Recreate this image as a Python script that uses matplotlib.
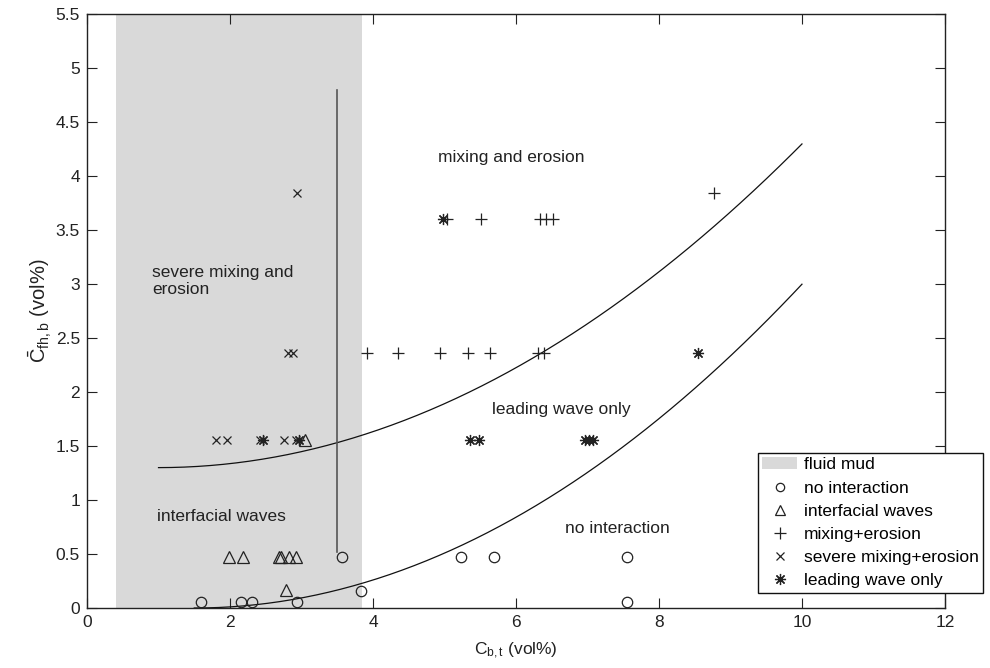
import numpy as np
import matplotlib
matplotlib.use("Agg")
import matplotlib.pyplot as plt
from matplotlib.patches import Patch
from matplotlib.lines import Line2D

plt.rcParams['font.family'] = ['Liberation Sans', 'DejaVu Sans']
plt.rcParams['mathtext.fontset'] = 'custom'
plt.rcParams['mathtext.rm'] = 'Liberation Sans'
plt.rcParams['mathtext.it'] = 'Liberation Sans'

# Observed regimes: bed concentration C_b,t vs. depth-averaged fluid-mud concentration
no_int_x = [1.59, 2.15, 2.31, 2.94, 3.56, 3.83, 5.23, 5.69, 7.55, 7.55]
no_int_y = [0.06, 0.06, 0.06, 0.06, 0.47, 0.16, 0.47, 0.47, 0.47, 0.06]

interf_x = [1.99, 2.18, 2.69, 2.72, 2.83, 2.92, 2.78, 3.05]
interf_y = [0.47, 0.47, 0.47, 0.47, 0.47, 0.47, 0.17, 1.56]

mixing_x = [3.91, 4.35, 4.94, 5.33, 5.63, 6.31, 6.39, 5.03, 5.51, 6.33, 6.42, 6.52, 8.77]
mixing_y = [2.36, 2.36, 2.36, 2.36, 2.36, 2.36, 2.36, 3.60, 3.60, 3.60, 3.60, 3.60, 3.84]

severe_x = [1.80, 1.96, 2.42, 2.76, 2.92, 2.81, 2.88, 2.94]
severe_y = [1.56, 1.56, 1.56, 1.56, 1.56, 2.36, 2.36, 3.84]

leading_x = [2.46, 2.96, 5.35, 5.48, 6.96, 7.02, 7.08, 8.54, 4.98]
leading_y = [1.56, 1.56, 1.56, 1.56, 1.56, 1.56, 1.56, 2.36, 3.60]

# Fluid mud range of C_b,t
mud_range = (0.4, 3.85)

# Regime boundaries: y = y0 + k * (x - x0)^2 for x in [x_start, 10]
upper_bound = dict(y0=1.3, k=0.037, x0=1.0, x_start=1.0)
lower_bound = dict(y0=0.0, k=0.0415, x0=1.5, x_start=1.5)

# Vertical separator
sep_x = 3.5
sep_y = (0.52, 4.8)

xticks = [0, 2, 4, 6, 8, 10, 12]
yticks = [0, 0.5, 1, 1.5, 2, 2.5, 3, 3.5, 4, 4.5, 5, 5.5]

fig = plt.figure(figsize=(9.9, 6.68), dpi=100)
ax = fig.add_axes([0.0879, 0.0898, 0.8666, 0.8892])

mk = '#222222'
ax.axvspan(*mud_range, color='#d9d9d9', lw=0, zorder=0)

for b in (upper_bound, lower_bound):
    xs = np.linspace(b['x_start'], 10, 200)
    ax.plot(xs, b['y0'] + b['k'] * (xs - b['x0']) ** 2, color='#111111', lw=0.9, zorder=2)

ax.plot([sep_x, sep_x], sep_y, color='#555555', lw=1.2, zorder=2)

asterisk = (8, 2, 0)
ax.plot(no_int_x, no_int_y, ls='none', marker='o', ms=7.5, mfc='none', mec=mk, mew=0.9, zorder=3)
ax.plot(interf_x, interf_y, ls='none', marker='^', ms=8, mfc='none', mec=mk, mew=0.9, zorder=3)
ax.plot(mixing_x, mixing_y, ls='none', marker='+', ms=8, mec=mk, mew=0.9, zorder=3)
ax.plot(severe_x, severe_y, ls='none', marker='x', ms=6, mec=mk, mew=0.9, zorder=3)
ax.plot(leading_x, leading_y, ls='none', marker=asterisk, ms=8, mec=mk, mew=0.9, zorder=3)

fs = 12.5
tc = '#222222'
ax.text(4.91, 4.17, 'mixing and erosion', fontsize=fs, color=tc, va='center')
ax.text(0.91, 3.03, 'severe mixing and\nerosion', fontsize=fs, color=tc, va='center', linespacing=1.15)
ax.text(5.66, 1.84, 'leading wave only', fontsize=fs, color=tc, va='center')
ax.text(0.98, 0.85, 'interfacial waves', fontsize=fs, color=tc, va='center')
ax.text(6.68, 0.74, 'no interaction', fontsize=fs, color=tc, va='center')

ax.set_xlim(0, 12)
ax.set_ylim(0, 5.5)
ax.set_xticks(xticks)
ax.set_yticks(yticks)
ax.set_xticklabels([f'{t:g}' for t in xticks])
ax.set_yticklabels([f'{t:g}' for t in yticks])
ax.tick_params(direction='in', length=7, width=0.8, top=True, right=True,
               labelsize=fs, colors='#222222', pad=5)
for s in ax.spines.values():
    s.set_linewidth(1.0)
    s.set_color('#222222')

ax.set_xlabel(r'C$_{\mathrm{b,t}}$ (vol%)', fontsize=fs, color=tc, labelpad=8)
ax.set_ylabel(r'$\bar{\mathrm{C}}_{\mathrm{fh,b}}$ (vol%)', fontsize=14.5, color=tc, labelpad=1)

handles = [
    Patch(facecolor='#d9d9d9', edgecolor='none'),
    Line2D([], [], ls='none', marker='o', ms=6, mfc='none', mec=mk, mew=0.9),
    Line2D([], [], ls='none', marker='^', ms=7, mfc='none', mec=mk, mew=0.9),
    Line2D([], [], ls='none', marker='+', ms=8, mec=mk, mew=0.9),
    Line2D([], [], ls='none', marker='x', ms=6, mec=mk, mew=0.9),
    Line2D([], [], ls='none', marker=asterisk, ms=8, mec=mk, mew=0.9),
]
labels = ['fluid mud', 'no interaction', 'interfacial waves', 'mixing+erosion',
          'severe mixing+erosion', 'leading wave only']
leg = fig.legend(handles, labels, loc='upper left', bbox_to_anchor=(758 / 990, 1 - 453 / 668),
                 fontsize=fs, frameon=True, fancybox=False, framealpha=1, edgecolor='#111111',
                 borderpad=0.25, labelspacing=0.46, handlelength=2.0, handletextpad=0.4,
                 borderaxespad=0)
leg.get_frame().set_linewidth(1.0)

fig.savefig('out.png', dpi=100)
